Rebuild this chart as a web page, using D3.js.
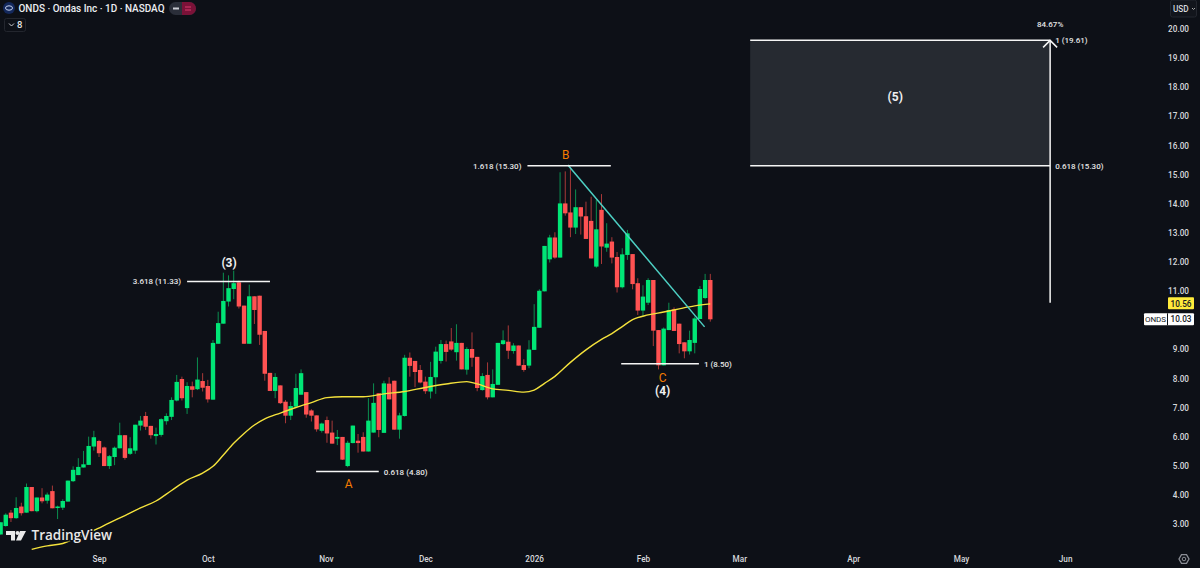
<!DOCTYPE html>
<html>
<head>
<meta charset="utf-8">
<script src="https://cdn.jsdelivr.net/npm/d3@7"></script>
<style>
  html, body { margin: 0; padding: 0; background: #0d1017; overflow: hidden; }
  text { font-family: Roboto, "Liberation Sans", Arial, sans-serif; }
  .axis text { fill: #d6d8dc; font-size: 8.2px; font-weight: 500; }
  .axis .domain, .axis line { display: none; }
</style>
</head>
<body>
<div id="chart"></div>
<script>
// one entry per trading day, left to right
const open = [2.64,2.93,3.39,3.20,3.60,3.39,4.27,3.44,3.91,3.80,
  4.13,3.56,3.56,3.77,4.47,4.68,4.94,5.03,5.66,5.85,
  5.63,4.99,5.30,5.60,6.05,5.41,5.52,6.38,6.71,6.37,
  6.02,6.06,6.53,6.68,7.24,7.98,6.98,7.73,7.63,7.91,
  7.74,7.27,9.19,9.88,10.64,11.07,11.30,10.50,9.19,10.82,
  10.84,9.63,8.19,7.57,7.76,7.20,6.72,7.03,7.44,7.53,
  6.90,6.73,6.20,6.57,6.14,5.93,5.99,4.99,5.78,5.86,
  5.99,5.49,6.14,7.49,6.13,7.82,7.92,6.24,6.71,8.71,
  8.60,8.29,7.89,7.55,8.04,8.60,9.18,9.27,8.90,9.22,
  8.30,9.01,8.74,7.60,8.12,7.35,7.78,9.18,9.26,8.94,
  9.13,8.46,8.44,8.98,9.74,10.99,12.09,12.84,12.15,14.01,
  13.70,13.18,13.88,13.57,13.41,11.84,13.79,12.49,12.70,12.17,
  11.13,12.24,12.27,11.27,10.33,10.60,11.38,9.66,8.45,9.66,
  10.37,9.88,9.24,8.93,9.22,10.04,10.76,11.38];
const high = [3.06,3.37,3.48,3.92,3.73,4.39,4.27,3.91,4.23,4.08,
  4.32,3.63,3.85,4.49,4.98,5.26,5.51,6.00,6.20,5.89,
  5.66,5.37,5.66,6.48,6.05,5.98,6.41,6.71,6.85,6.37,
  6.31,6.63,6.80,7.35,8.12,8.06,7.87,7.89,8.72,8.18,
  7.95,9.32,10.29,11.63,11.54,11.70,11.36,10.50,11.22,10.82,
  10.84,9.63,8.19,8.18,7.76,7.26,7.20,8.16,8.31,7.53,
  6.94,6.73,6.48,6.69,6.55,6.23,5.99,5.86,6.38,6.09,
  6.15,7.32,7.83,7.49,7.92,8.04,7.92,6.82,8.81,8.89,
  8.60,8.46,8.06,8.57,9.09,9.32,9.30,9.73,9.86,9.22,
  9.07,9.58,8.74,8.18,8.55,8.31,9.22,9.65,9.82,9.21,
  9.13,8.66,9.31,10.55,11.06,12.55,12.93,13.02,15.08,15.11,
  15.27,14.49,13.88,14.07,14.24,14.13,14.33,13.33,12.85,12.34,
  12.47,13.10,12.27,11.44,11.20,11.44,11.38,9.66,9.75,10.60,
  10.44,9.88,9.24,9.64,10.12,11.17,11.59,11.59];
const low = [2.64,2.91,3.07,3.18,3.29,3.39,3.44,3.40,3.71,3.70,
  3.54,3.17,3.48,3.77,4.44,4.68,4.94,5.03,5.52,5.30,
  4.99,4.89,5.02,5.60,5.21,5.37,5.41,6.21,6.23,5.93,
  5.73,6.00,6.41,6.57,7.21,7.24,6.78,7.35,7.60,7.55,
  7.17,7.27,9.19,9.88,10.47,10.72,10.40,9.19,9.19,9.87,
  9.15,7.92,7.57,7.32,7.12,6.46,6.57,7.03,7.44,6.65,
  6.52,6.17,6.14,5.79,5.76,5.71,5.20,4.95,5.77,5.45,
  5.49,5.49,6.14,5.98,6.13,7.28,6.24,5.93,6.69,8.06,
  7.70,7.83,7.47,7.31,7.47,8.51,8.58,8.95,8.61,8.31,
  8.13,8.40,7.56,7.58,7.28,7.35,7.78,9.15,8.67,8.85,
  8.44,8.23,8.35,8.98,9.74,10.99,11.98,12.11,12.15,13.59,
  12.85,12.96,12.94,12.79,12.12,11.80,11.93,12.35,11.95,10.95,
  11.09,12.07,11.06,10.18,10.12,10.52,9.11,8.31,8.45,9.66,
  9.63,8.86,8.69,8.82,8.86,10.04,10.72,9.95];
const close = [3.06,3.32,3.20,3.55,3.37,4.27,3.44,3.91,3.78,4.01,
  3.54,3.60,3.79,4.49,4.86,4.96,5.05,5.68,5.98,5.43,
  4.99,5.33,5.62,6.05,5.27,5.60,6.41,6.55,6.34,6.05,
  6.09,6.60,6.71,7.26,7.88,7.32,7.74,7.61,7.96,7.68,
  7.28,9.22,9.90,10.66,11.10,11.27,10.47,9.19,10.82,10.35,
  9.50,8.16,7.57,8.05,7.15,6.72,7.05,7.67,8.18,6.76,
  6.72,6.25,6.45,6.11,5.76,5.99,5.21,5.79,6.38,5.78,
  5.49,6.55,7.16,6.23,7.83,7.28,6.24,6.73,8.71,8.43,
  8.22,7.86,7.56,8.05,8.92,9.18,8.91,8.99,9.22,8.31,
  9.01,8.71,7.67,8.08,7.35,7.81,9.22,9.31,8.95,9.13,
  8.44,8.29,8.99,9.77,11.01,12.55,12.84,12.15,14.01,13.67,
  13.18,13.88,13.56,12.79,12.12,13.12,12.53,12.63,12.15,11.13,
  12.26,12.98,11.24,10.33,10.81,11.38,9.64,8.45,9.71,10.35,
  9.63,9.18,8.93,9.32,10.06,11.07,11.38,10.03];

// moving average, read every few bars
const maBars = [6,9,12,15,18,21,24,27,30,33,36,39,41,43,45,47,49,51,54,57,60,63,66,70,74,78,
  82,86,90,92,95,98,101,103,105,107,110,113,116,118,120,122,125,128,131,134,137];
const maValues = [2.13,2.25,2.33,2.55,2.78,3.04,3.29,3.55,3.79,4.15,4.51,4.75,4.98,5.37,5.77,6.11,
  6.40,6.61,6.81,7.00,7.17,7.34,7.37,7.37,7.47,7.55,7.69,7.81,7.89,7.81,7.64,7.59,7.53,7.60,7.83,
  8.07,8.55,8.98,9.34,9.54,9.78,10.02,10.18,10.28,10.39,10.49,10.56];

// 10.00 sits under the price tag in the reference
const priceTicks = [3,4,5,6,7,8,9,11,12,13,14,15,16,17,18,19,20];
const monthLabels = ['Sep', 'Oct', 'Nov', 'Dec', '2026', 'Feb', 'Mar', 'Apr', 'May', 'Jun'];
const monthBars = [19, 40, 62.8, 82, 103, 124, 142.6, 164.6, 185.4, 205.5];

// horizontal fib lines: [from bar, to bar, price, label]
const fibLines = [
  [36, 52, 11.33, '3.618 (11.33)'],
  [60.9, 73, 4.80, '0.618 (4.80)'],
  [101.7, 117.8, 15.30, '1.618 (15.30)'],
  [119.8, 134.8, 8.50, '1 (8.50)']
];
// wave labels: [bar, price, text, colour]
const waveLabels = [
  [44.1, 11.95, '(3)', '#f0f0f0'],
  [67.2, 4.35, 'A', '#f57c00'],
  [109.1, 15.64, 'B', '#f57c00'],
  [127.8, 7.97, 'C', '#f57c00'],
  [127.8, 7.55, '(4)', '#f0f0f0'],
  [172.7, 17.63, '(5)', '#f0f0f0']
];
const targetBars = [144.7, 202.6];
const targetTop = 19.61;
const targetBottom = 15.30;
const arrowFrom = 10.60;
const trendBars = [109.5, 135.9];
const trendPrices = [15.33, 9.77];

const width = 1200;
const height = 568;

const x = d3.scaleLinear().domain([0, 137]).range([0.6, 710.3]);
const y = d3.scaleLinear().domain([3, 20]).range([524, 29]);

const svg = d3.select('#chart').append('svg')
  .attr('width', width)
  .attr('height', height)
  .style('display', 'block')
  .style('background', '#0d1017');

// target box behind everything
svg.append('rect')
  .attr('x', x(targetBars[0]))
  .attr('y', y(targetTop))
  .attr('width', x(targetBars[1]) - x(targetBars[0]))
  .attr('height', y(targetBottom) - y(targetTop))
  .style('fill', '#262a31');

// candles
const candles = svg.append('g').selectAll('g')
  .data(open.map((o, i) => ({i, o, h: high[i], l: low[i], c: close[i]})))
  .join('g');
candles.append('line')
  .attr('x1', d => x(d.i))
  .attr('x2', d => x(d.i))
  .attr('y1', d => y(d.h))
  .attr('y2', d => y(d.l))
  .style('stroke', d => d.c >= d.o ? '#0b8f50' : '#a83838')
  .style('stroke-width', 1);
candles.append('rect')
  .attr('x', d => x(d.i) - 2.2)
  .attr('width', 4.4)
  .attr('y', d => y(Math.max(d.o, d.c)))
  .attr('height', d => Math.max(1.5, Math.abs(y(d.o) - y(d.c))))
  .style('fill', d => d.c >= d.o ? '#00e676' : '#ff5252');

// moving average
svg.append('path')
  .datum(maBars.map((b, i) => [b, maValues[i]]))
  .attr('d', d3.line().x(d => x(d[0])).y(d => y(d[1])).curve(d3.curveMonotoneX))
  .style('fill', 'none')
  .style('stroke', '#f4e23c')
  .style('stroke-width', 1.4);

// trend line
svg.append('line')
  .attr('x1', x(trendBars[0])).attr('y1', y(trendPrices[0]))
  .attr('x2', x(trendBars[1])).attr('y2', y(trendPrices[1]))
  .style('stroke', '#4dd0c4')
  .style('stroke-width', 1.5);

// fib lines with their labels
const fib = svg.append('g').selectAll('g').data(fibLines).join('g');
fib.append('line')
  .attr('x1', d => x(d[0]))
  .attr('x2', d => x(d[1]))
  .attr('y1', d => y(d[2]))
  .attr('y2', d => y(d[2]))
  .style('stroke', '#f5f5f5')
  .style('stroke-width', 1.5);
fib.append('text')
  .attr('x', (d, i) => i === 0 || i === 2 ? x(d[0]) - 6 : x(d[1]) + 5)
  .attr('y', d => y(d[2]) + 3)
  .attr('text-anchor', (d, i) => i === 0 || i === 2 ? 'end' : 'start')
  .style('fill', '#e6e6e6')
  .style('font-size', '8px')
  .style('font-weight', 500)
  .text(d => d[3]);

// target lines, arrow and labels
[targetTop, targetBottom].forEach(p => {
  svg.append('line')
    .attr('x1', x(targetBars[0])).attr('x2', x(targetBars[1]))
    .attr('y1', y(p)).attr('y2', y(p))
    .style('stroke', '#f5f5f5').style('stroke-width', 1.5);
});
svg.append('line')
  .attr('x1', x(targetBars[1])).attr('x2', x(targetBars[1]))
  .attr('y1', y(arrowFrom)).attr('y2', y(targetTop))
  .style('stroke', '#f5f5f5').style('stroke-width', 1.5);
const tipX = x(targetBars[1]);
const tipY = y(targetTop);
svg.append('path')
  .attr('d', `M${tipX - 7},${tipY + 7}L${tipX},${tipY}L${tipX + 7},${tipY + 7}`)
  .style('fill', 'none').style('stroke', '#f5f5f5').style('stroke-width', 1.5);

const noteStyle = sel => sel.style('fill', '#e6e6e6').style('font-size', '8px').style('font-weight', 500);
svg.append('text').attr('x', tipX + 5).attr('y', tipY + 3).call(noteStyle).text('1 (19.61)');
svg.append('text').attr('x', tipX + 5).attr('y', y(targetBottom) + 3).call(noteStyle).text('0.618 (15.30)');
svg.append('text').attr('x', tipX).attr('y', tipY - 13).attr('text-anchor', 'middle').call(noteStyle).text('84.67%');

// wave labels
svg.append('g').selectAll('text').data(waveLabels).join('text')
  .attr('x', d => x(d[0]))
  .attr('y', d => y(d[1]))
  .attr('text-anchor', 'middle')
  .attr('dominant-baseline', 'middle')
  .style('fill', d => d[3])
  .style('font-size', '12px')
  .style('font-weight', d => d[2].startsWith('(') ? 700 : 400)
  .text(d => d[2]);

// axes
svg.append('g')
  .attr('class', 'axis')
  .attr('transform', 'translate(1189,0)')
  .call(d3.axisRight(y).tickValues(priceTicks).tickSize(0).tickPadding(0).tickFormat(d3.format('.2f')))
  .selectAll('text')
  .attr('text-anchor', 'end');

svg.append('g')
  .attr('class', 'axis')
  .attr('transform', 'translate(0,553)')
  .call(d3.axisBottom(x).tickValues(monthBars).tickSize(0).tickPadding(3)
    .tickFormat((d, i) => monthLabels[i]));

// price tags
const maLast = maValues[maValues.length - 1];
const lastClose = close[close.length - 1];
const tagY = y(maLast);
svg.append('rect').attr('x', 1168).attr('y', tagY - 6.5).attr('width', 26).attr('height', 12).attr('rx', 1).style('fill', '#ffeb3b');
svg.append('text').attr('x', 1181).attr('y', tagY + 3).attr('text-anchor', 'middle')
  .style('font-size', '8.2px').style('font-weight', 500).style('fill', '#131722').text(maLast.toFixed(2));
const closeY = y(lastClose);
svg.append('rect').attr('x', 1144).attr('y', closeY - 6).attr('width', 50).attr('height', 12).attr('rx', 1).style('fill', '#ffffff');
svg.append('line').attr('x1', 1167.5).attr('x2', 1167.5).attr('y1', closeY - 6).attr('y2', closeY + 6).style('stroke', '#0d1017');
svg.append('text').attr('x', 1155.5).attr('y', closeY + 3).attr('text-anchor', 'middle')
  .style('font-size', '8px').style('font-weight', 400).style('fill', '#131722').text('ONDS');
svg.append('text').attr('x', 1181).attr('y', closeY + 3).attr('text-anchor', 'middle')
  .style('font-size', '8.2px').style('font-weight', 500).style('fill', '#131722').text(lastClose.toFixed(2));

// header
svg.append('circle').attr('cx', 9).attr('cy', 8).attr('r', 6).style('fill', '#13285c');
svg.append('ellipse').attr('cx', 9).attr('cy', 8).attr('rx', 3.5).attr('ry', 2.2)
  .style('fill', 'none').style('stroke', '#c8d4f0').style('stroke-width', 1);
svg.append('text').attr('x', 18.5).attr('y', 12)
  .attr('textLength', 146).attr('lengthAdjust', 'spacingAndGlyphs')
  .style('fill', '#eceef2').style('font-size', '11px').style('font-weight', 500)
  .text('ONDS · Ondas Inc · 1D · NASDAQ');
svg.append('rect').attr('x', 169).attr('y', 2).attr('width', 27).attr('height', 13).attr('rx', 6.5).style('fill', '#2a2e39');
svg.append('path').attr('d', 'M182,2h7.5a6.5,6.5 0 0 1 0,13h-7.5z').style('fill', '#7a1238');
svg.append('rect').attr('x', 173).attr('y', 7.5).attr('width', 6).attr('height', 2).style('fill', '#c9ccd3');
svg.append('path').attr('d', 'M185,7h6M185,10h6').style('stroke', '#d8386c').style('stroke-width', 1.2);
svg.append('rect').attr('x', 4.5).attr('y', 18.5).attr('width', 21).attr('height', 13).attr('rx', 2)
  .style('fill', 'none').style('stroke', '#23262e');
svg.append('path').attr('d', 'M9,23.5l2.5,2.5l2.5,-2.5').style('fill', 'none').style('stroke', '#c8cad0');
svg.append('text').attr('x', 17).attr('y', 28).style('fill', '#e6e6e6').style('font-size', '9.5px').style('font-weight', 500).text('8');

// currency box
svg.append('rect').attr('x', 1170.5).attr('y', 0).attr('width', 26).attr('height', 17).attr('rx', 2)
  .style('fill', '#12151c').style('stroke', '#23262e');
svg.append('text').attr('x', 1173).attr('y', 11.5).style('fill', '#d6d8dc').style('font-size', '8.2px').style('font-weight', 500).text('USD');
svg.append('path').attr('d', 'M1192,8l1.5,1.5l1.5,-1.5').style('fill', 'none').style('stroke', '#aaaaaa');

// settings icon
svg.append('path').attr('d', d3.line()(d3.range(6).map(k => [1184 + 5 * Math.cos(k * Math.PI / 3), 559 + 5 * Math.sin(k * Math.PI / 3)])) + 'Z')
  .style('fill', 'none').style('stroke', '#8a8d95').style('stroke-width', 1.3);
svg.append('circle').attr('cx', 1184).attr('cy', 559).attr('r', 1.8).style('fill', 'none').style('stroke', '#8a8d95');

// watermark, with a halo that hides what passes under it
const logo = svg.append('g');
logo.append('text').attr('x', 31.5).attr('y', 540)
  .style('font-family', '"Open Sans", sans-serif').style('font-size', '13.5px').style('font-weight', 600)
  .style('fill', '#e8e8e8').style('stroke', '#0d1017').style('stroke-width', 3).style('paint-order', 'stroke')
  .text('TradingView');
logo.append('path').attr('d', 'M6,531h9v9.5h-4v-5.5h-5zM20,531h6l-5,9.5h-5z').style('fill', '#e8e8e8');
logo.append('circle').attr('cx', 17.5).attr('cy', 533).attr('r', 2).style('fill', '#e8e8e8');
</script>
</body>
</html>
